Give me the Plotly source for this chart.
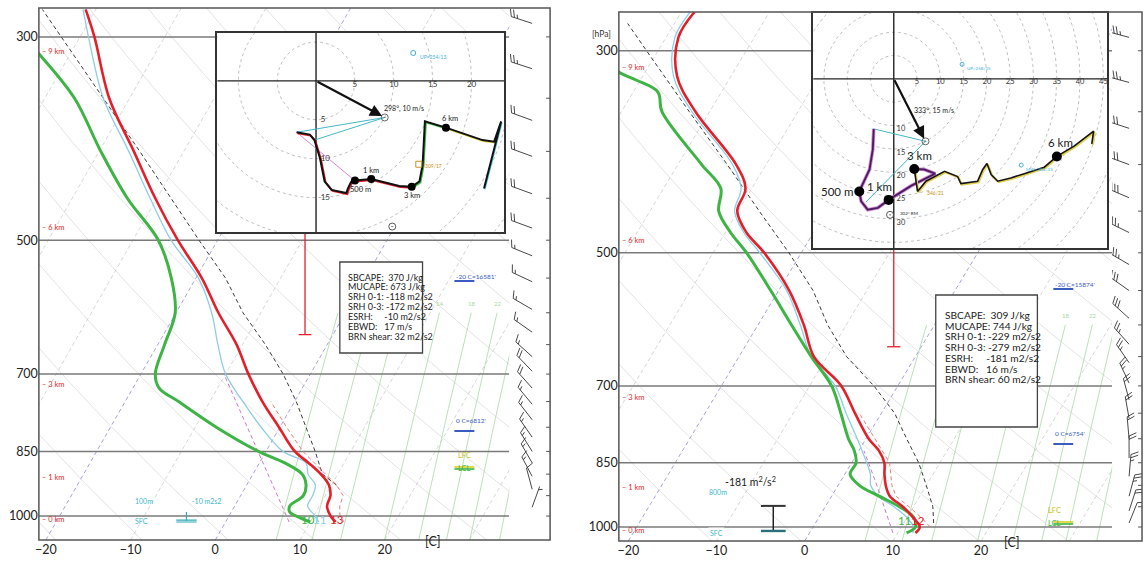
import numpy as np
import plotly.graph_objects as go

W, H = 1148, 565
SKEW = 62.0          # slant of the isotherms, degC per decade of pressure
FONT = "Lato, Noto Sans, sans-serif"

# ---------------- left sounding ----------------
t1_p = [1015, 1000, 975, 950, 925, 900, 875, 850, 800, 750, 700, 650, 600, 550, 500, 450, 400, 350, 300, 280]
t1_T = [13.0, 12.0, 10.9, 10.6, 9.7, 8.0, 5.8, 3.4, -0.1, -3.8, -7.3, -10.7, -15.0, -19.3, -24.7, -30.2, -35.9, -42.4, -48.3, -51.2]
tv1_p = [1015, 1000, 975, 950, 925, 900, 875, 850, 800, 750, 700, 650, 600, 550, 500, 450, 400, 350, 300, 280]
tv1_T = [11.0, 10.2, 8.6, 8.5, 8.1, 6.5, 5.5, 2.0, -2.2, -6.1, -10.0, -12.9, -15.8, -19.7, -25.5, -30.8, -36.5, -43.1, -49.0, -51.5]
td1_p = [1015, 1005, 990, 975, 950, 925, 900, 875, 850, 800, 750, 725, 700, 650, 600, 550, 500, 450, 400, 350, 314, 295]
td1_T = [10.0, 8.6, 6.9, 6.5, 7.4, 7.0, 5.8, 3.0, -0.9, -7.5, -13.7, -16.9, -18.3, -19.2, -20.1, -22.9, -27.0, -33.5, -39.8, -46.5, -53.5, -58.0]
pc1_p = [925, 900, 850, 800, 750, 700, 650, 600, 550, 500, 450, 400, 350, 300, 280]
pc1_T = [10.6, 8.2, 5.8, 3.1, 0.2, -3.2, -7.3, -12.1, -16.5, -22.2, -28.3, -35.2, -43.1, -52.2, -56.3]
pv1_p = [1015, 1000, 975, 950, 925, 900, 850, 800, 750]
pv1_T = [14.0, 13.1, 12.4, 12.1, 10.6, 8.6, 4.35, 0.8, -2.8]
mx1_p = [1015, 900, 800, 700]
mx1_T = [7.5, 1.75, -3.9, -10.2]

# ---------------- right sounding ----------------
t2_p = [1015, 1000, 975, 950, 925, 900, 875, 850, 825, 800, 750, 700, 650, 600, 550, 500, 475, 450, 425, 400, 350, 320, 290, 272]
t2_T = [12.0, 12.1, 10.6, 8.8, 6.6, 5.4, 4.5, 3.7, 2.3, 0.3, -3.0, -6.4, -11.5, -14.8, -18.8, -24.2, -27.6, -30.1, -30.7, -33.4, -41.6, -46.1, -48.6, -48.5]
tv2_p = [1015, 1000, 975, 950, 925, 900, 875, 850, 800, 750, 700, 650, 600, 550, 500, 475, 450, 425, 400, 350, 320, 290, 272]
tv2_T = [11.7, 11.4, 9.9, 7.8, 5.3, 3.7, 2.9, 1.7, -1.0, -4.0, -7.1, -11.8, -15.2, -19.1, -24.7, -27.9, -30.4, -31.2, -33.8, -42.0, -46.5, -49.0, -49.0]
td2_p = [1015, 1000, 975, 950, 925, 900, 875, 850, 825, 800, 750, 700, 650, 600, 550, 500, 475, 450, 425, 400, 350, 333, 323, 316, 300]
td2_T = [11.0, 11.6, 10.7, 8.4, 5.4, 2.4, 0.6, 0.5, -0.5, -2.0, -4.6, -7.5, -11.8, -16.2, -20.9, -26.2, -29.4, -32.2, -33.5, -37.3, -45.4, -47.2, -50.5, -53.2, -57.0]
pc2_p = [990, 950, 900, 850, 800, 750, 700, 650, 600, 550, 500, 450, 400, 350, 300, 280]
pc2_T = [13.4, 12.2, 10.0, 7.6, 4.6, 1.5, -2.7, -7.8, -12.1, -16.1, -21.4, -27.6, -34.4, -42.3, -51.3, -55.3]
pv2_p = [1000, 975, 950, 925, 900, 875, 850, 800, 750]
pv2_T = [13.3, 11.5, 9.5, 7.3, 6.1, 5.2, 4.3, 1.0, -2.5]
mx2_p = [1015, 900, 825]
mx2_T = [9.45, 4.4, 0.6]

# surface labels (value, colour key, small nudge in px)
sfc1 = [(10, "td", -2), (11, "tv", 1), (13, "t", 1)]
sfc2 = [(11, "td", -2), (12, "t", 3)]

# height marks on the pressure axis
height_km = [0, 1, 3, 6, 9]
height_p1 = [1008, 907, 718, 484, 311]
height_p2 = [1010, 906, 720, 485, 313]

isobars = [300, 500, 700, 850, 1000]
mixing_ratios = [6, 8, 10, 14, 18, 22, 26, 32]
mixing_labelled = [10, 14, 18, 22]
temp_ticks = [-20, -10, 0, 10, 20]

# bar hanging under the hodograph (pressure top/bottom, skewed x)
bar1 = dict(x=10.6, p_top=490, p_bot=634)
bar2 = dict(x=10.1, p_top=494, p_bot=634)

# ---------------- wind barbs (direction deg, speed m/s) ----------------
wb1_p = [290, 325, 370, 405, 445, 485, 520, 555, 595, 630, 670, 695, 725, 755, 785, 820, 850, 875, 905, 935, 978]
wb1_dir = [288, 288, 290, 290, 290, 290, 292, 295, 300, 305, 312, 316, 318, 320, 322, 325, 328, 330, 332, 345, 20]
wb1_spd = [24, 23, 22, 21, 20, 18, 17, 16, 15, 16, 17, 18, 18, 17, 16, 15, 15, 14, 14, 12, 7]
wb2_p = [290, 325, 365, 400, 435, 475, 515, 550, 590, 630, 660, 695, 725, 760, 800, 840, 880, 925, 960, 990]
wb2_dir = [285, 285, 288, 290, 293, 296, 300, 305, 312, 318, 325, 335, 345, 350, 355, 0, 5, 15, 18, 22]
wb2_spd = [44, 43, 42, 40, 38, 37, 33, 30, 28, 27, 26, 24, 22, 20, 20, 22, 26, 25, 22, 12]

# ---------------- hodographs (u, v in m/s; z in km) ----------------
h1_u = [-2.5, -0.8, -0.2, 0.5, 1.1, 2.0, 3.9, 4.1, 4.5, 5.0, 7.1, 9.0, 10.7, 12.3, 13.3, 13.7, 13.9, 14.0, 16.7, 19.3, 21.4, 22.9, 23.8, 21.6]
h1_v = [-6.6, -6.9, -7.6, -9.9, -12.9, -14.0, -14.4, -13.8, -13.0, -12.8, -12.6, -13.1, -13.5, -13.6, -12.9, -10.8, -6.9, -5.2, -6.0, -6.9, -7.6, -7.8, -5.2, -13.8]
h1_z = [0.0, 0.05, 0.1, 0.18, 0.26, 0.32, 0.38, 0.42, 0.46, 0.5, 1.0, 1.6, 2.3, 3.0, 3.3, 3.8, 4.5, 5.0, 6.0, 7.0, 8.0, 8.8, 9.5, 10.5]
h2_u = [-4.3, -4.5, -5.2, -7.0, -7.4, -7.0, -5.6, -3.4, -1.1, 3.7, 8.9, 6.6, 4.4, 5.1, 6.9, 10.9, 13.7, 14.4, 18.0, 19.1, 20.0, 20.9, 22.3, 25.1, 28.0, 32.3, 35.0, 38.7, 42.9, 42.5]
h2_v = [-10.7, -15.1, -19.4, -23.0, -24.1, -26.2, -28.0, -27.6, -25.9, -22.9, -20.3, -19.4, -19.3, -24.1, -21.9, -19.8, -20.9, -22.4, -21.9, -19.4, -18.1, -20.5, -21.9, -21.2, -20.3, -18.9, -16.6, -14.4, -11.2, -13.9]
h2_z = [0, 0.1, 0.25, 0.4, 0.5, 0.6, 0.7, 0.8, 1.0, 1.6, 2.3, 2.7, 3.0, 3.2, 3.4, 3.7, 3.9, 4.1, 4.4, 4.6, 4.8, 5.0, 5.2, 5.4, 5.6, 5.8, 6.0, 6.8, 7.8, 8.5]
marker_km = [0.5, 1.0, 3.0, 6.0]
marker_txt = ["500 m", "1 km", "3 km", "6 km"]

storm1 = (298, 10)
storm2 = (333, 15)
up1 = ("UP", 254, 13)
up2 = ("UP", 258, 15)
sq1 = (309, 17)
mw2 = ("MW", 304, 33)
extra1 = (9.8, -18.7)
rm2 = (-0.8, -29.1)
rm2_txt = "302° RM"
dev2 = (346, 21)
dev2_pos = (6.8, -24.4)

stats_names = ["SBCAPE:", "MUCAPE:", "SRH 0-1:", "SRH 0-3:", "ESRH:", "EBWD:", "BRN shear:"]
stats1 = ["370 J/kg", "673 J/kg", "-118 m2/s2", "-172 m2/s2", "-10 m2/s2", "17 m/s", "32 m2/s2"]
stats2 = ["309 J/kg", "744 J/kg", "-229 m2/s2", "-279 m2/s2", "-181 m2/s2", "16 m/s", "60 m2/s2"]

lvl1 = {"m20": "-20 C=16581'", "zero": "0 C=6812'"}
lvl2 = {"m20": "-20 C=15874'", "zero": "0 C=6754'"}
esrh1 = dict(txt="-10 m2s2", top="100m", x=-3.4, p_top=990, p_bot=1012)
esrh2 = dict(txt="-181 m<sup>2</sup>/s<sup>2</sup>", top="800m", x=-3.56, p_top=948, p_bot=1010)

# ---------------- helpers ----------------
def px_x(px):
    return px / W


def px_y(py):
    return 1.0 - py / H


def skew_x(T, p, p_bot):
    return np.asarray(T, float) + SKEW * np.log10(p_bot / np.asarray(p, float))


def joined(segs):
    xs, ys = [], []
    for a, b in segs:
        xs += list(a) + [None]
        ys += list(b) + [None]
    return xs, ys


def mixing_td(w, p):
    e = w * p / (622.0 + w)
    a = np.log(e / 6.112)
    return 243.5 * a / (17.67 - a)


def wind_uv(direction, speed):
    th = np.radians(direction)
    return -speed * np.sin(th), -speed * np.cos(th)


def barb(xb, yb, direction, speed, L=22.0, F=8.0, gap=3.3):
    th = np.radians(direction)
    s = np.array([np.sin(th), np.cos(th)])
    f = np.array([s[1], -s[0]]) + 0.45 * s
    f = f / np.hypot(*f)
    base = np.array([xb, -yb])
    tip = base + L * s
    segs = [(base, tip)]
    val = int(round(speed / 5.0)) * 5
    n50, rem = divmod(val, 50)
    n10, rem = divmod(rem, 10)
    pos = 0.0
    for _ in range(n50):
        a = tip - pos * s
        b = tip - (pos + 1.6 * gap) * s
        segs += [(a, a + F * f), (a + F * f, b)]
        pos += 2.0 * gap
    for _ in range(n10):
        a = tip - pos * s
        segs.append((a, a + F * f))
        pos += gap
    if rem >= 5:
        if pos == 0:
            pos = gap
        a = tip - pos * s
        segs.append((a, a + 0.5 * F * f))
    return [([a[0], b[0]], [-a[1], -b[1]]) for a, b in segs]


panels = [
    dict(xa="x", ya="y", frame=(35, 8, 548, 540), plot_x1=507, xr=(-20.82, 34.71), p_top=279.0, p_bot=1062.0,
         t=(t1_p, t1_T), tv=(tv1_p, tv1_T), td=(td1_p, td1_T), pc=(pc1_p, pc1_T), pv=(pv1_p, pv1_T),
         mx=(mx1_p, mx1_T), sfc=sfc1, hp=height_p1, bar=bar1, wb=(wb1_p, wb1_dir, wb1_spd),
         bx=("x5", "y5"), barb_x=23, stats=stats1, lvl=lvl1, esrh=esrh1, stat_font=9.0,
         box=(337, 262, 420, 353), text0=277, dline=9.9, tx=343, c_x=430,
         lvl_x=452, y_m20=276, y_zero=426, y_lfc=462, y_line=467),
    dict(xa="x2", ya="y2", frame=(617, 12, 1142, 541), plot_x1=1112, xr=(-21.07, 34.86), p_top=272.0, p_bot=1036.0,
         t=(t2_p, t2_T), tv=(tv2_p, tv2_T), td=(td2_p, td2_T), pc=(pc2_p, pc2_T), pv=(pv2_p, pv2_T),
         mx=(mx2_p, mx2_T), sfc=sfc2, hp=height_p2, bar=bar2, wb=(wb2_p, wb2_dir, wb2_spd),
         bx=("x6", "y6"), barb_x=17, stats=stats2, lvl=lvl2, esrh=esrh2, stat_font=10.2,
         box=(935, 295, 1037, 427), text0=315, dline=10.7, tx=942, c_x=1022,
         lvl_x=1053, y_m20=284, y_zero=439, y_lfc=517, y_line=522),
]

COL = dict(t="#e3202a", td="#3db444", tv="#8fcde2")

fig = go.Figure()
annotations = []
shapes = []
layout = {}


def line(x, y, xa, ya, color, width=1.0, dash=None, shape="linear"):
    fig.add_trace(go.Scatter(x=x, y=y, mode="lines", xaxis=xa, yaxis=ya, hoverinfo="skip",
                             line=dict(color=color, width=width, dash=dash, shape=shape), showlegend=False))


for k, P in enumerate(panels):
    xa, ya = P["xa"], P["ya"]
    pb, pt = P["p_bot"], P["p_top"]
    x0, y0, x1, y1 = P["frame"]
    xp1 = P["plot_x1"]
    xr = P["xr"]

    def to_px(X):
        return x0 + (X - xr[0]) / (xr[1] - xr[0]) * (xp1 - x0)

    # dry adiabats
    pp = np.geomspace(pb, 250, 60)
    segs = []
    for theta in range(250, 471, 10):
        T = theta * (pp / 1000.0) ** 0.2857 - 273.15
        segs.append((skew_x(T, pp, pb), pp))
    xs, ys = joined(segs)
    line(xs, ys, xa, ya, "#dcdcdc", 0.8)
    # isotherms
    segs, segs_b = [], []
    for T in range(-110, 50, 10):
        ends = np.array([pb, 250.0])
        (segs_b if T in (-20, 0) else segs).append((skew_x([T, T], ends, pb), ends))
    xs, ys = joined(segs)
    line(xs, ys, xa, ya, "#cccccc", 0.8, "4px,3px")
    xs, ys = joined(segs_b)
    line(xs, ys, xa, ya, "#9a9ad6", 0.9, "4px,3px")
    # mixing ratio lines
    pm = np.geomspace(pb, 600, 20)
    segs = [(skew_x(mixing_td(w, pm), pm, pb), pm) for w in mixing_ratios]
    xs, ys = joined(segs)
    line(xs, ys, xa, ya, "#a9d9a4", 0.8)
    bx0, by0, bx1, by1 = P["box"]
    for w in mixing_labelled:
        xw = float(skew_x(mixing_td(w, 600.0), 600.0, pb))
        if bx0 - 6 <= to_px(xw) <= bx1 + 6:
            continue   # hidden behind the statistics box
        annotations.append(dict(x=xw, y=np.log10(600.0) - 0.004, xref=xa, yref=ya, text=str(w), showarrow=False,
                                yanchor="bottom", font=dict(size=6, color="#a9d9a4", family=FONT)))
    # isobars
    segs = [((xr[0], xr[1]), (p, p)) for p in isobars]
    xs, ys = joined(segs)
    line(xs, ys, xa, ya, "#7a7a7a", 1.5)
    # profiles
    line(skew_x(P["mx"][1], P["mx"][0], pb), P["mx"][0], xa, ya, "#cc77cc", 1.0, "4px,3px")
    line(skew_x(P["pc"][1], P["pc"][0], pb), P["pc"][0], xa, ya, "#3a3a3a", 1.0, "4px,3px")
    line(skew_x(P["pv"][1], P["pv"][0], pb), P["pv"][0], xa, ya, "#f07a7a", 1.0, "4px,3px")
    line(skew_x(P["tv"][1], P["tv"][0], pb), P["tv"][0], xa, ya, COL["tv"], 1.3, shape="spline")
    line(skew_x(P["td"][1], P["td"][0], pb), P["td"][0], xa, ya, COL["td"], 3.0, shape="spline")
    line(skew_x(P["t"][1], P["t"][0], pb), P["t"][0], xa, ya, COL["t"], 2.6, shape="spline")
    # bar under the hodograph
    b = P["bar"]
    line([b["x"], b["x"], None, b["x"] - 0.75, b["x"] + 0.75],
         [b["p_top"], b["p_bot"], None, b["p_bot"], b["p_bot"]], xa, ya, "#e3202a", 1.3)
    # surface values
    p_s = P["t"][0][0]
    for val, key, nudge in P["sfc"]:
        annotations.append(dict(x=float(skew_x(val, p_s, pb)), y=px_y(y1 - 12), xref=xa, yref="paper",
                                text=str(val), showarrow=False, xshift=nudge,
                                font=dict(size=11.5, color=COL[key], family=FONT)))
    # height marks
    for hk, hp in zip(height_km, P["hp"]):
        annotations.append(dict(x=px_x(x0 + 1), y=np.log10(hp), xref="paper", yref=ya, xanchor="left",
                                text="– %d km" % hk, showarrow=False,
                                font=dict(size=7.5, color="#e02828", family=FONT)))
    # axes
    xd = [px_x(x0), px_x(xp1)]
    yd = [px_y(y1), px_y(y0)]
    sfx = "" if k == 0 else "2"
    layout["xaxis" + sfx] = dict(domain=xd, range=list(xr), tickvals=temp_ticks,
                                 showgrid=False, zeroline=False, showline=False, ticks="",
                                 tickfont=dict(size=12.5, color="#222", family=FONT), anchor=ya, fixedrange=True)
    layout["yaxis" + sfx] = dict(domain=yd, type="log", range=[np.log10(pb), np.log10(pt)],
                                 tickvals=isobars, ticktext=[str(v) for v in isobars], showgrid=False,
                                 zeroline=False, showline=False, ticks="",
                                 tickfont=dict(size=12.5, color="#222", family=FONT), anchor=xa, fixedrange=True)
    annotations.append(dict(x=px_x(P["c_x"]), y=px_y(y1 + 11), xref="paper", yref="paper", text="[C]",
                            showarrow=False, font=dict(size=12.5, color="#222", family=FONT)))
    # frame
    shapes.append(dict(type="rect", xref="paper", yref="paper", x0=px_x(x0), x1=px_x(x1),
                       y0=px_y(y1), y1=px_y(y0), line=dict(color="#555", width=1.5), layer="above"))
    # wind barbs column
    bxa, bya = P["bx"]
    bw = x1 - xp1
    bh = y1 - y0
    layout["xaxis" + bxa[1:]] = dict(domain=[px_x(xp1), px_x(x1)], range=[0, bw], visible=False,
                                     anchor=bya, fixedrange=True)
    layout["yaxis" + bya[1:]] = dict(domain=yd, range=[bh, 0], visible=False, anchor=bxa, fixedrange=True)

    def ypix(p):
        return (np.log10(p) - np.log10(pt)) / (np.log10(pb) - np.log10(pt)) * bh

    segs = []
    for p, d, s in zip(*P["wb"]):
        segs += barb(P["barb_x"], ypix(p), d, s)
    xs, ys = joined(segs)
    line(xs, ys, bxa, bya, "#333", 0.9)
    segs = [((bw - 4, bw), (ypix(p), ypix(p))) for p in range(300, 1001, 50)]
    xs, ys = joined(segs)
    line(xs, ys, bxa, bya, "#555", 1.0)

    # statistics box
    shapes.append(dict(type="rect", xref="paper", yref="paper", x0=px_x(bx0), x1=px_x(bx1), y0=px_y(by1),
                       y1=px_y(by0), fillcolor="white", line=dict(color="#444", width=1.3), layer="above"))
    nb = "\u00a0"
    for i, (nm, val) in enumerate(zip(stats_names, P["stats"])):
        pad = {0: 2, 4: 5, 5: 3}.get(i, 1)
        annotations.append(dict(x=px_x(P["tx"]), y=px_y(P["text0"] + i * P["dline"]), xref="paper", yref="paper",
                                xanchor="left", yanchor="middle", showarrow=False, text=nm + nb * pad + val,
                                font=dict(size=P["stat_font"], color="#222", family=FONT)))
    # level labels
    lx = P["lvl_x"]
    for key, yy in (("m20", P["y_m20"]), ("zero", P["y_zero"])):
        annotations.append(dict(x=px_x(lx), y=px_y(yy), xref="paper", yref="paper", xanchor="left",
                                text=P["lvl"][key], showarrow=False, font=dict(size=6.5, color="#3a5cc0", family=FONT)))
        shapes.append(dict(type="line", xref="paper", yref="paper", x0=px_x(lx), x1=px_x(lx + 20),
                           y0=px_y(yy + 5), y1=px_y(yy + 5), line=dict(color="#3a5cc0", width=2)))
    annotations.append(dict(x=px_x(lx + 10), y=px_y(P["y_lfc"]), xref="paper", yref="paper", text="LFC",
                            showarrow=False, font=dict(size=7.5, color="#c8c020", family=FONT)))
    annotations.append(dict(x=px_x(lx + 10), y=px_y(P["y_lfc"] + 13), xref="paper", yref="paper", text="LCL",
                            showarrow=False, font=dict(size=7.5, color="#3db444", family=FONT)))
    shapes.append(dict(type="line", xref="paper", yref="paper", x0=px_x(lx), x1=px_x(lx + 20),
                       y0=px_y(P["y_line"]), y1=px_y(P["y_line"]), line=dict(color="#d8d020", width=1.6)))
    shapes.append(dict(type="line", xref="paper", yref="paper", x0=px_x(lx), x1=px_x(lx + 20),
                       y0=px_y(P["y_line"] + 2), y1=px_y(P["y_line"] + 2), line=dict(color="#3db444", width=1.6)))
    # effective inflow layer marker
    E = P["esrh"]
    hw = 1.2 if k == 0 else 1.4
    if k == 0:
        line([E["x"], E["x"], None, E["x"] - hw, E["x"] + hw, None, E["x"] - hw, E["x"] + hw],
             [E["p_top"], E["p_bot"], None, E["p_bot"] * 0.9985, E["p_bot"] * 0.9985, None,
              E["p_bot"] * 1.003, E["p_bot"] * 1.003], xa, ya, "#30a8b8", 1.2)
        annotations.append(dict(x=px_x(129), y=px_y(507), xref="paper", yref="paper", text=E["top"],
                                showarrow=False, font=dict(size=7, color="#40b8c8", family=FONT)))
        annotations.append(dict(x=px_x(129), y=px_y(527), xref="paper", yref="paper", text="SFC",
                                showarrow=False, font=dict(size=7, color="#40b8c8", family=FONT)))
        annotations.append(dict(x=px_x(187), y=px_y(507), xref="paper", yref="paper", text=E["txt"],
                                showarrow=False, font=dict(size=7, color="#40b8c8", family=FONT)))
    else:
        line([E["x"], E["x"]], [E["p_top"], E["p_bot"]], xa, ya, "#222", 1.5)
        line([E["x"] - hw, E["x"] + hw], [E["p_top"], E["p_top"]], xa, ya, "#333", 2)
        line([E["x"] - hw, E["x"] + hw], [E["p_bot"], E["p_bot"]], xa, ya, "#2a7078", 2.4)
        annotations.append(dict(x=px_x(716), y=px_y(498), xref="paper", yref="paper", text=E["top"],
                                showarrow=False, font=dict(size=7, color="#40b8c8", family=FONT)))
        annotations.append(dict(x=px_x(715), y=px_y(539), xref="paper", yref="paper", text="SFC",
                                showarrow=False, bgcolor="white", font=dict(size=7, color="#40b8c8", family=FONT)))
        annotations.append(dict(x=px_x(777), y=px_y(490), xref="paper", yref="paper", text=E["txt"],
                                showarrow=False, font=dict(size=10.5, color="#222", family=FONT)))

annotations.append(dict(x=px_x(600), y=px_y(27), xref="paper", yref="paper", text="[hPa]", showarrow=False,
                        font=dict(size=8.5, color="#333", family=FONT)))

# ---------------- hodograph insets ----------------
insets = [
    dict(xa="x3", ya="y3", box=(214, 33, 502, 232), ur=(-12.7, 24.2), vr=(-19.4, 6.15),
         u=h1_u, v=h1_v, z=h1_z, rings=range(5, 31, 5), hlab=[5, 10, 15, 20], vlab=[5, 10, 15],
         vpos="middle right", storm=storm1, lfs=8, mfs=7.5, msize=8, dark=False),
    dict(xa="x4", ya="y4", box=(812, 13, 1107, 248), ur=(-17.3, 45.8), vr=(-36.2, 14.1),
         u=h2_u, v=h2_v, z=h2_z, rings=range(5, 51, 5), hlab=list(range(5, 46, 5)), vlab=[10, 15, 20, 25, 30],
         vpos="bottom right", storm=storm2, lfs=7.5, mfs=11.5, msize=10, dark=True),
]

for n, I in enumerate(insets):
    xa, ya = I["xa"], I["ya"]
    bx0, by0, bx1, by1 = I["box"]
    ax_style = dict(showgrid=False, zeroline=False, showticklabels=False, ticks="", showline=True,
                    mirror=True, linecolor="#333", linewidth=1.5, fixedrange=True)
    layout["xaxis" + xa[1:]] = dict(domain=[px_x(bx0), px_x(bx1)], range=list(I["ur"]), anchor=ya, **ax_style)
    layout["yaxis" + ya[1:]] = dict(domain=[px_y(by1), px_y(by0)], range=list(I["vr"]), anchor=xa, **ax_style)
    th = np.linspace(0, 2 * np.pi, 181)
    segs = [(r * np.cos(th), r * np.sin(th)) for r in I["rings"]]
    xs, ys = joined(segs)
    line(xs, ys, xa, ya, "#b0b0b0", 0.8, "3px,3px")
    line([I["ur"][0], I["ur"][1], None, 0, 0], [0, 0, None, I["vr"][0], I["vr"][1]], xa, ya, "#222", 1.4)
    fig.add_trace(go.Scatter(x=I["hlab"], y=[0] * len(I["hlab"]), mode="text", text=[str(r) for r in I["hlab"]],
                             textposition="bottom center", xaxis=xa, yaxis=ya, showlegend=False, hoverinfo="skip",
                             textfont=dict(size=I["lfs"], color="#333", family=FONT)))
    fig.add_trace(go.Scatter(x=[0.6] * len(I["vlab"]), y=[-r for r in I["vlab"]], mode="text",
                             text=[str(r) for r in I["vlab"]], textposition=I["vpos"], xaxis=xa, yaxis=ya,
                             showlegend=False, hoverinfo="skip",
                             textfont=dict(size=I["lfs"], color="#333", family=FONT)))
    u = np.array(I["u"]); v = np.array(I["v"]); z = np.array(I["z"])
    su, sv = wind_uv(*I["storm"])
    # helper lines from the storm motion
    if n == 0:
        line([su, u[0], None, su, u[2]], [sv, v[0], None, sv, v[2]], xa, ya, "#45b8c8", 1.0)
        u5, v5 = np.interp(0.5, z, u), np.interp(0.5, z, v)
        line([u[0], u5], [v[0], v5], xa, ya, "#d58ad5", 1.0)
    else:
        line([su, u[0], None, su, -6.0], [sv, v[0], None, sv, -26.4], xa, ya, "#45b8c8", 1.0)
    # height-coloured trace
    if not I["dark"]:
        layers = [(0, 3, "#e3202a", 2.0), (3, 6, "#3db444", 2.0), (6, 9, "#e0d040", 2.0), (9, 20, "#45c8d8", 1.2)]
        for lo, hi, col, wd in layers:
            m = (z >= lo) & (z <= hi)
            if m.sum() > 1:
                line(u[m] + 0.12, v[m] - 0.12, xa, ya, col, wd)
        line(u, v, xa, ya, "#111", 2.0)
    else:
        m = z <= 3
        line(u[m], v[m], xa, ya, "#d98ad9", 3.6)
        line(u[m], v[m], xa, ya, "#4a1f5e", 1.9)
        m = z >= 3
        line(u[m] + 0.2, v[m] - 0.2, xa, ya, "#e0d050", 2.2)
        line(u[m], v[m], xa, ya, "#151515", 1.6)
    mu = [np.interp(h, z, u) for h in marker_km]
    mv = [np.interp(h, z, v) for h in marker_km]
    fig.add_trace(go.Scatter(x=mu, y=mv, mode="markers", xaxis=xa, yaxis=ya, showlegend=False, hoverinfo="skip",
                             marker=dict(size=I["msize"], color="black")))
    if n == 0:
        offs = [(6, -9), (0, 9), (0, -9), (4, 9)]
    else:
        offs = [(-22, 0), (-9, 13), (5, 14), (4, 14)]
    for x_, y_, (dx, dy), t in zip(mu, mv, offs, marker_txt):
        annotations.append(dict(x=x_, y=y_, xref=xa, yref=ya, text=t, showarrow=False, xshift=dx, yshift=dy,
                                font=dict(size=I["mfs"], color="#222", family=FONT)))
    # storm motion arrow
    annotations.append(dict(x=su, y=sv, ax=0, ay=0, xref=xa, yref=ya, axref=xa, ayref=ya, text="",
                            showarrow=True, arrowhead=2, arrowsize=1.1, arrowwidth=2.2, arrowcolor="#111",
                            standoff=3))
    fig.add_trace(go.Scatter(x=[su], y=[sv], mode="markers", xaxis=xa, yaxis=ya, showlegend=False, hoverinfo="skip",
                             marker=dict(size=7, symbol="circle-open-dot", color="#666", line=dict(width=1))))
    annotations.append(dict(x=su, y=sv, xref=xa, yref=ya, text="%d°, %d m/s" % I["storm"], showarrow=False,
                            xanchor="left", yanchor="bottom", xshift=(-3 if n == 0 else -13),
                            yshift=(2 if n == 0 else 24), font=dict(size=7, color="#222", family=FONT)))
    if n == 0:
        uu, vv = wind_uv(up1[1], up1[2])
        fig.add_trace(go.Scatter(x=[uu], y=[vv], mode="markers", xaxis=xa, yaxis=ya, showlegend=False,
                                 hoverinfo="skip", marker=dict(size=5, symbol="circle-open", color="#40b0d8")))
        annotations.append(dict(x=uu, y=vv, xref=xa, yref=ya, text="%s=%d/%d" % up1, showarrow=False,
                                xanchor="left", xshift=5, yshift=-4, font=dict(size=5, color="#40b0d8", family=FONT)))
        qu, qv = wind_uv(*sq1)
        fig.add_trace(go.Scatter(x=[qu], y=[qv], mode="markers", xaxis=xa, yaxis=ya, showlegend=False,
                                 hoverinfo="skip", marker=dict(size=6, symbol="square-open", color="#c89020")))
        annotations.append(dict(x=qu, y=qv, xref=xa, yref=ya, text="%d/%d" % sq1, showarrow=False,
                                xanchor="left", xshift=4, yshift=-2, font=dict(size=5, color="#c89020", family=FONT)))
        fig.add_trace(go.Scatter(x=[extra1[0]], y=[extra1[1]], mode="markers", xaxis=xa, yaxis=ya, showlegend=False,
                                 hoverinfo="skip",
                                 marker=dict(size=7, symbol="circle-open-dot", color="#555", line=dict(width=1))))
    else:
        for lab, d, s in (up2, mw2):
            uu, vv = wind_uv(d, s)
            fig.add_trace(go.Scatter(x=[uu], y=[vv], mode="markers", xaxis=xa, yaxis=ya, showlegend=False,
                                     hoverinfo="skip", marker=dict(size=4, symbol="circle-open", color="#40b0d8")))
            annotations.append(dict(x=uu, y=vv, xref=xa, yref=ya, text="%s=%d/%d" % (lab, d, s), showarrow=False,
                                    xanchor="left", xshift=3, yshift=-4,
                                    font=dict(size=4.5, color="#40b0d8", family=FONT)))
        annotations.append(dict(x=dev2_pos[0], y=dev2_pos[1], xref=xa, yref=ya, text="%d/%d" % dev2, showarrow=False,
                                xanchor="left", font=dict(size=5, color="#c89020", family=FONT)))
        fig.add_trace(go.Scatter(x=[rm2[0]], y=[rm2[1]], mode="markers", xaxis=xa, yaxis=ya, showlegend=False,
                                 hoverinfo="skip",
                                 marker=dict(size=7, symbol="circle-open-dot", color="#555", line=dict(width=1))))
        annotations.append(dict(x=rm2[0], y=rm2[1], xref=xa, yref=ya, text=rm2_txt, showarrow=False,
                                xanchor="left", xshift=8, yshift=1, font=dict(size=4.5, color="#222", family=FONT)))

fig.update_layout(width=W, height=H, margin=dict(l=0, r=0, t=0, b=0, pad=0), paper_bgcolor="white",
                  plot_bgcolor="white", showlegend=False, annotations=annotations, shapes=shapes,
                  font=dict(family=FONT), **layout)
fig.write_html("out.html")
